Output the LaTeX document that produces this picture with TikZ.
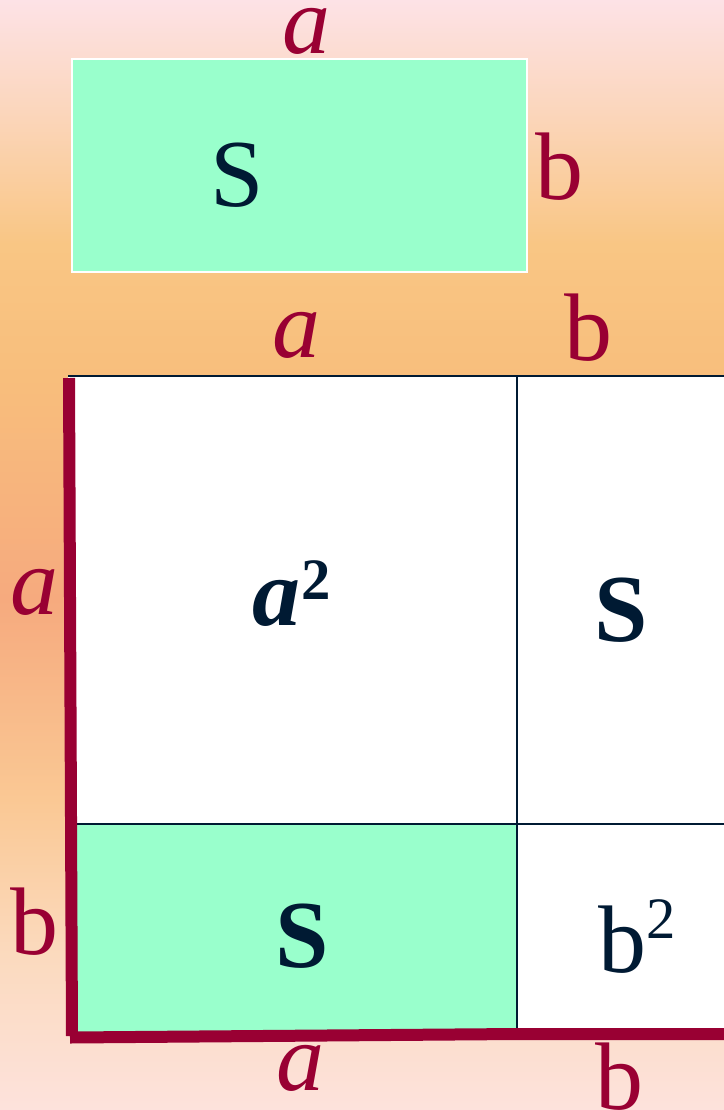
\documentclass[tikz,border=0pt]{standalone}
\usepackage{fontspec}
\setmainfont{Liberation Serif}
\definecolor{maroon}{HTML}{990033}
\definecolor{ink}{HTML}{001A33}
\definecolor{mint}{HTML}{99FFCC}
\definecolor{bgA}{RGB}{253,226,230}
\definecolor{bgB}{RGB}{251,214,188}
\definecolor{bgC}{RGB}{249,198,132}
\definecolor{bgD}{RGB}{248,190,124}
\definecolor{bgE}{RGB}{246,170,126}
\definecolor{bgF}{RGB}{250,200,148}
\definecolor{bgG}{RGB}{251,218,190}
\definecolor{bgH}{RGB}{253,226,220}
\pgfdeclareverticalshading{bgshade}{100bp}{color(0bp)=(bgH); color(25bp)=(bgH); color(32bp)=(bgG); color(39bp)=(bgF); color(48bp)=(bgE); color(58bp)=(bgD); color(64bp)=(bgC); color(70bp)=(bgB); color(75bp)=(bgA); color(100bp)=(bgA)}
\newcommand{\supbox}[2]{\raisebox{#1}{\fontsize{44}{46}\selectfont #2}}
\tikzset{
  lbl/.style={text=maroon, inner sep=0pt, font=\fontsize{72}{80}\selectfont},
  inlbl/.style={text=ink, inner sep=0pt, font=\fontsize{72}{80}\selectfont},
  gridline/.style={draw=ink, line width=1.5pt},
  thickside/.style={draw=maroon, line width=9pt, line cap=butt},
}
\begin{document}
\begin{tikzpicture}[x=0.75pt,y=-0.75pt]
\useasboundingbox (0,0) rectangle (724,1110);
\shade[shading=bgshade] (0,0) rectangle (724,1110);
\begin{scope}
\clip (0,0) rectangle (724,1110);
% top rectangle
\draw[white, line width=1.5pt, fill=mint] (72,59) rectangle (527,272);
\node[inlbl] (s0) at (237,175) {S};
\node[lbl] (ta) at (306,31) {\itshape a};
\node[lbl] (tb) at (559,167) {b};
% big square
\fill[white] (68,376) rectangle (760,1034);
\fill[mint] (72,824) rectangle (517,1034);
\draw[gridline] (68,376) -- (760,376);
\draw[gridline] (517,376) -- (517,1034);
\draw[gridline] (72,824) -- (760,824);
\draw[thickside] (69,378) -- (72,1036);
\draw[thickside] (70,1037.5) -- (517,1034) -- (760,1034);
% labels
\node[lbl] (ra) at (296,335) {\itshape a};
\node[lbl] (rb) at (588,328) {b};
\node[lbl] (la) at (34,592) {\itshape a};
\node[lbl] (lb) at (34,922) {b};
\node[lbl] (ba) at (300,1068) {\itshape a};
\node[lbl] (bb) at (619,1077) {b};
\node[inlbl, anchor=base west] (a2) at (252,625) {\bfseries\itshape a\kern1pt\supbox{19pt}{\upshape 2}};
\node[inlbl] (s1) at (621,610) {\bfseries S};
\node[inlbl] (s2) at (302,936) {\bfseries S};
\node[inlbl, anchor=base west] (b2) at (598,972) {b\supbox{25pt}{2}};
\end{scope}
\end{tikzpicture}
\end{document}
